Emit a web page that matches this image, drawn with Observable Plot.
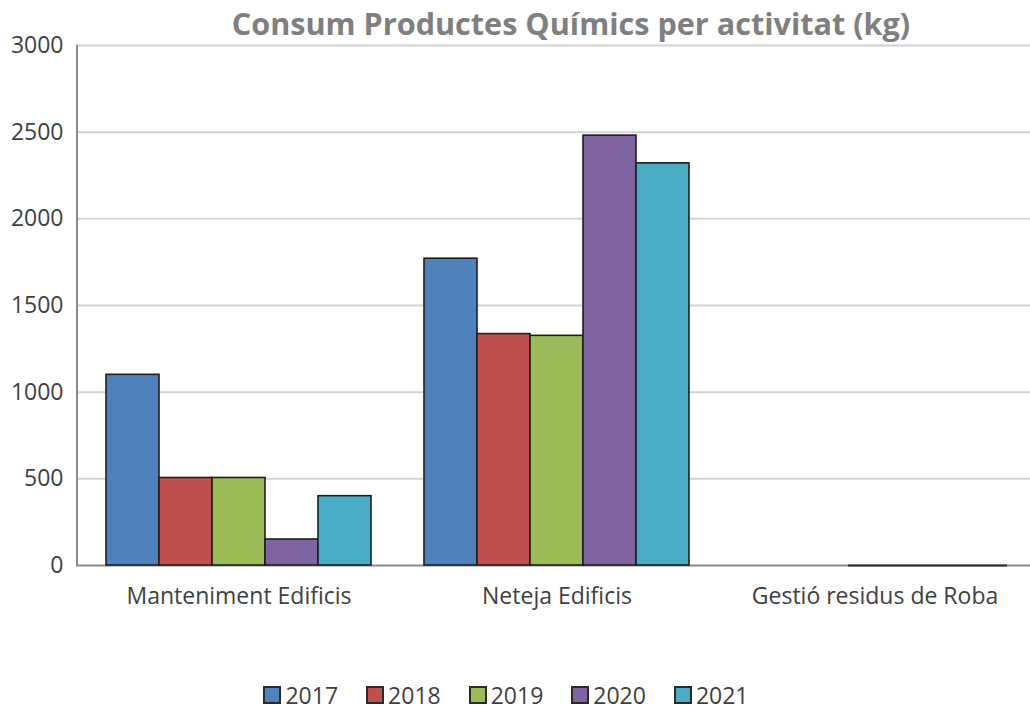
<!DOCTYPE html>
<html><head><meta charset="utf-8">
<script src="https://cdn.jsdelivr.net/npm/d3@7"></script>
<script src="https://cdn.jsdelivr.net/npm/@observablehq/plot@0.6"></script>
<style>
body{margin:0;background:#fff;font-family:"Open Sans",sans-serif;}
#wrap{position:relative;width:1030px;height:711px;overflow:hidden;background:#fff;}
#title{position:absolute;top:3px;left:112px;width:918px;text-align:center;font-weight:bold;font-size:30.6px;line-height:40px;color:#7f7f7f;white-space:nowrap;}
#chart{position:absolute;top:0;left:0;}
#legend{position:absolute;top:684px;left:0;width:1012px;display:flex;justify-content:center;gap:28px;font-size:23px;line-height:22px;color:#404040;}
#legend .item{display:flex;align-items:center;gap:4px;}
#legend .sw{width:14px;height:14px;border:2px solid #2a2a2a;}
</style></head>
<body>
<div id="wrap">
  <div id="chart"></div>
  <div id="title"></div>
  <div id="legend"></div>
</div>
<script>
const titleText = "Consum Productes Químics per activitat (kg)";
const categories = ["Manteniment Edificis", "Neteja Edificis", "Gestió residus de Roba"];
const years = ["2017", "2018", "2019", "2020", "2021"];
const v2017 = [1100, 1770, null];
const v2018 = [505, 1335, null];
const v2019 = [505, 1325, 0];
const v2020 = [150, 2480, 0];
const v2021 = [400, 2320, 0];
const yTicks = [0, 500, 1000, 1500, 2000, 2500, 3000];
const colors = ["#4f81bd", "#c0504d", "#9bbb59", "#8064a2", "#4bacc6"];

const series = [v2017, v2018, v2019, v2020, v2021];
const rows = [];
const keys = [];
const middleKeys = [];
categories.forEach((cat, i) => {
  if (i > 0) keys.push("gap" + i);
  years.forEach((yr, j) => {
    const key = cat + "|" + yr;
    keys.push(key);
    if (j === 2) middleKeys.push(key);
    rows.push({key, cat, year: yr, value: series[j][i]});
  });
});
const barsData = rows.filter(d => d.value != null && d.value > 0);
const zeroData = rows.filter(d => d.value === 0);

document.getElementById("title").textContent = titleText;

const chart = Plot.plot({
  width: 1030,
  height: 640,
  marginLeft: 76,
  marginRight: -7,
  marginTop: 45,
  marginBottom: 75,
  style: {fontFamily: "'Open Sans', sans-serif", fontSize: "23px", color: "#404040", background: "transparent", overflow: "visible"},
  x: {domain: keys, paddingInner: 0, paddingOuter: 0.5, ticks: middleKeys, tickFormat: k => k.split("|")[0], tickSize: 0, tickPadding: 22, label: null},
  y: {domain: [0, 3000], ticks: yTicks, tickFormat: d => String(d), tickSize: 0, tickPadding: 13, label: null},
  color: {domain: years, range: colors},
  marks: [
    Plot.ruleY(yTicks.filter(d => d > 0), {stroke: "#d3d3d3", strokeWidth: 2}),
    Plot.ruleY([0], {stroke: "#8a8a8a", strokeWidth: 2}),
    Plot.barY(barsData, {x: "key", y: "value", fill: "year", stroke: "#1e1e1e", strokeWidth: 1.6}),
    Plot.tickY(zeroData, {x: "key", y: "value", stroke: "#2a2a2a", strokeWidth: 2})
  ]
});
document.getElementById("chart").appendChild(chart);

// y axis line drawn with the chart's own y scale
const ys = chart.scale("y");
d3.select(chart).append("line")
  .attr("x1", 77).attr("x2", 77)
  .attr("y1", ys.apply(3000)).attr("y2", ys.apply(0))
  .attr("stroke", "#8a8a8a").attr("stroke-width", 2);

const legend = document.getElementById("legend");
years.forEach((yr, i) => {
  const item = document.createElement("div");
  item.className = "item";
  const sw = document.createElement("div");
  sw.className = "sw";
  sw.style.background = colors[i];
  const lab = document.createElement("span");
  lab.textContent = yr;
  item.appendChild(sw);
  item.appendChild(lab);
  legend.appendChild(item);
});
</script>
</body></html>
